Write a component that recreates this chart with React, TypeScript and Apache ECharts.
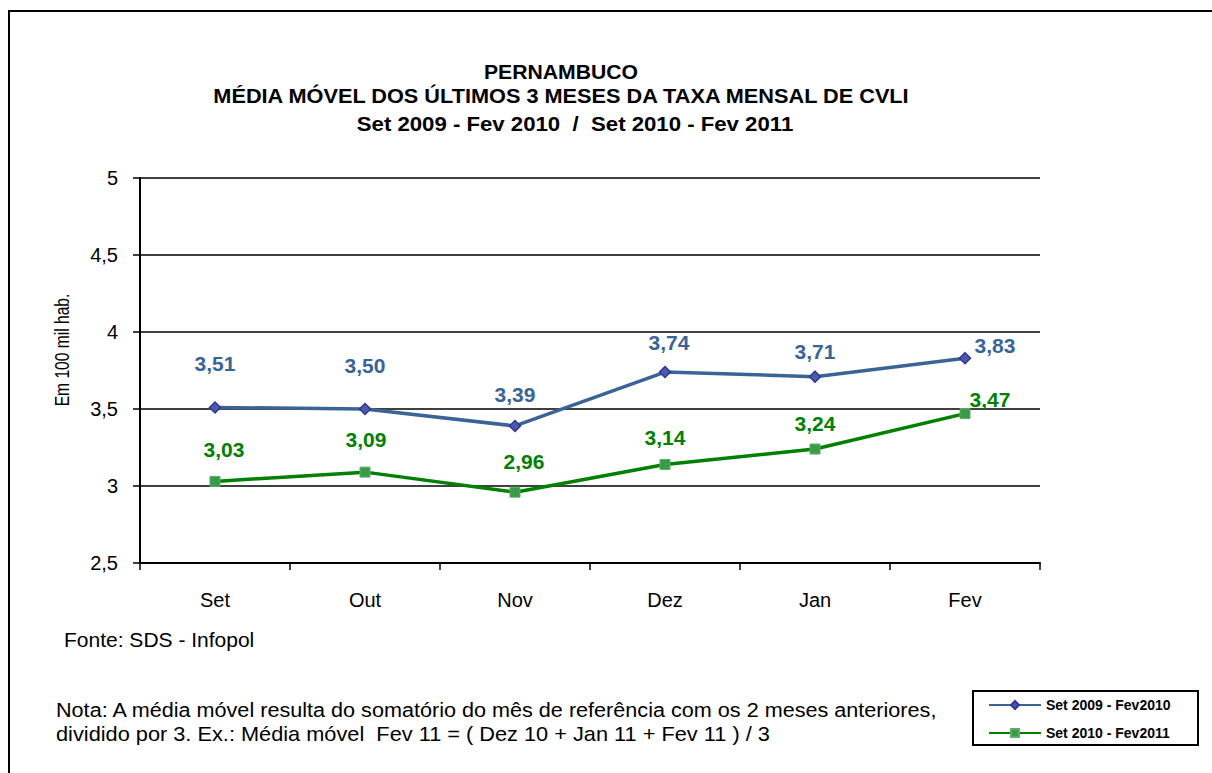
import React, { useEffect, useRef } from "react";
import * as echarts from "echarts";

const categories = ["Set", "Out", "Nov", "Dez", "Jan", "Fev"];
const serie2009 = [3.51, 3.5, 3.39, 3.74, 3.71, 3.83];
const serie2010 = [3.03, 3.09, 2.96, 3.14, 3.24, 3.47];
const seriesNames = ["Set 2009 - Fev2010", "Set 2010 - Fev2011"];
const titleLines = [
  "PERNAMBUCO",
  "MÉDIA MÓVEL DOS ÚLTIMOS 3 MESES DA TAXA MENSAL DE CVLI",
  "Set 2009 - Fev 2010  /  Set 2010 - Fev 2011",
];
const yAxisName = "Em 100 mil hab.";
const sourceText = "Fonte: SDS - Infopol";
const noteLines = [
  "Nota: A média móvel resulta do somatório do mês de referência com os 2 meses anteriores,",
  "dividido por 3. Ex.: Média móvel  Fev 11 = ( Dez 10 + Jan 11 + Fev 11 ) / 3",
];

// label placement (relative to each point), styling only
const blueLabelOffsets = [[0, -44], [0, -44], [0, -31], [4, -30], [0, -25], [30, -13]];
const greenLabelOffsets = [[9, -32], [1, -33], [9, -31], [0, -27], [0, -26], [25, -14]];

const FONT = "Liberation Sans, Arial, sans-serif";
const BLUE = "#3A6496";
const GREEN = "#008000";

const fmt = (v: number) => v.toFixed(2).replace(".", ",");

export default function App() {
  const ref = useRef<HTMLDivElement>(null);
  useEffect(() => {
    document.body.style.margin = "0";
    const chart = echarts.init(ref.current!, null, { renderer: "svg" });
    const mkData = (vals: number[], offs: number[][]) =>
      vals.map((v, i) => ({ value: v, label: { offset: offs[i] } }));
    const txt = (text: string, x: number, y: number, font: string, align: string, scaleX = 1, extra: any = {}) => ({
      type: "text",
      x,
      y,
      scaleX,
      ...extra,
      style: { text, font, fill: "#000", align, verticalAlign: "middle" },
    });
    chart.setOption({
      animation: false,
      backgroundColor: "#ffffff",
      textStyle: { fontFamily: FONT },
      grid: { left: 140, top: 178, width: 900, height: 385, containLabel: false },
      xAxis: {
        type: "category",
        data: categories,
        boundaryGap: true,
        axisLine: { lineStyle: { color: "#000", width: 2 } },
        axisTick: { show: true, length: 7, inside: false, lineStyle: { color: "#000", width: 1.5 } },
        axisLabel: { color: "#000", fontSize: 20, margin: 27, fontFamily: FONT },
        splitLine: { show: false },
      },
      yAxis: {
        type: "value",
        min: 2.5,
        max: 5,
        interval: 0.5,
        axisLine: { show: true, lineStyle: { color: "#000", width: 2 } },
        axisTick: { show: true, length: 7, lineStyle: { color: "#000", width: 1.5 } },
        axisLabel: {
          color: "#000",
          fontSize: 20,
          margin: 22,
          fontFamily: FONT,
          formatter: (v: number) => String(v).replace(".", ","),
        },
        splitLine: { show: true, lineStyle: { color: "#000", width: 1.5 } },
      },
      legend: {
        orient: "vertical",
        left: 988,
        top: 698,
        itemWidth: 52,
        itemHeight: 10,
        itemGap: 14,
        padding: 0,
        textStyle: { fontSize: 14, fontWeight: "bold", color: "#000", fontFamily: FONT },
        data: seriesNames,
      },
      series: [
        {
          name: seriesNames[0],
          type: "line",
          data: mkData(serie2009, blueLabelOffsets),
          symbol: "diamond",
          symbolSize: 11,
          lineStyle: { color: BLUE, width: 3.5 },
          itemStyle: { color: "#4A5BA8", borderColor: "#333399", borderWidth: 1.5 },
          label: {
            show: true,
            position: "inside",
            color: BLUE,
            fontSize: 21,
            fontWeight: "bold",
            fontFamily: FONT,
            formatter: (p: any) => fmt(p.value),
          },
          z: 3,
        },
        {
          name: seriesNames[1],
          type: "line",
          data: mkData(serie2010, greenLabelOffsets),
          symbol: "rect",
          symbolSize: 10,
          lineStyle: { color: GREEN, width: 3.5 },
          itemStyle: { color: "#3A9A4A", borderColor: "#5BAE66", borderWidth: 1 },
          label: {
            show: true,
            position: "inside",
            color: GREEN,
            fontSize: 21,
            fontWeight: "bold",
            fontFamily: FONT,
            formatter: (p: any) => fmt(p.value),
          },
          z: 3,
        },
      ],
      graphic: [
        {
          type: "rect",
          shape: { x: 9, y: 11, width: 1210, height: 770 },
          style: { fill: "none", stroke: "#000", lineWidth: 2 },
          silent: true,
        },
        {
          type: "rect",
          shape: { x: 973, y: 691, width: 225, height: 54 },
          style: { fill: "none", stroke: "#000", lineWidth: 2 },
          silent: true,
        },
        txt(titleLines[0], 561, 72, `bold 20px ${FONT}`, "center", 1.06),
        txt(titleLines[1], 561, 96, `bold 20px ${FONT}`, "center", 1.086),
        txt(titleLines[2], 575, 124, `bold 20px ${FONT}`, "center", 1.11),
        txt(yAxisName, 62, 350, `20px ${FONT}`, "center", 0.78, { rotation: Math.PI / 2 }),
        txt(sourceText, 64, 639, `21px ${FONT}`, "left", 1.0),
        txt(noteLines[0], 56, 710, `21px ${FONT}`, "left", 1.03),
        txt(noteLines[1], 56, 734, `21px ${FONT}`, "left", 1.036),
      ],
    });
    return () => chart.dispose();
  }, []);
  return <div ref={ref} style={{ width: 1212, height: 773 }} />;
}
